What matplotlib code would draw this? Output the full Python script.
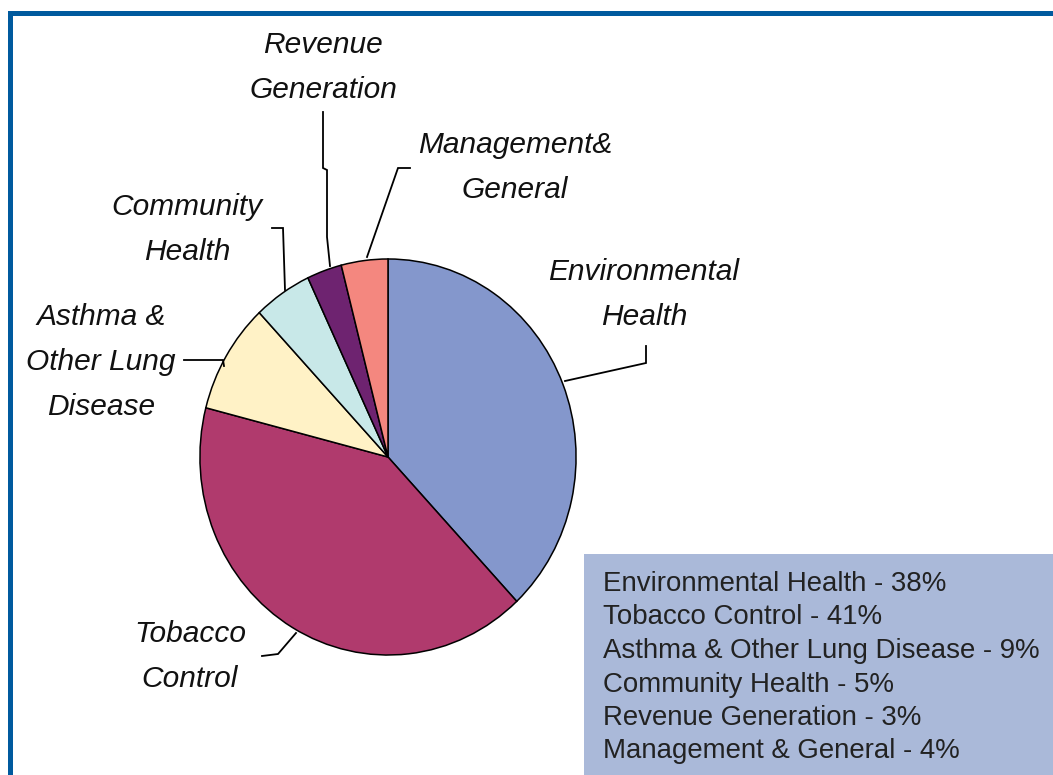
import matplotlib
matplotlib.use("Agg")
import matplotlib.pyplot as plt
from matplotlib.patches import Rectangle

# ---- data ----
categories = ["Environmental Health", "Tobacco Control", "Asthma & Other Lung Disease",
              "Community Health", "Revenue Generation", "Management & General"]
shares = [38, 41, 9, 5, 3, 4]
pie_labels = ["Environmental\nHealth", "Tobacco\nControl", "Asthma &\nOther Lung\nDisease",
              "Community\nHealth", "Revenue\nGeneration", "Management&\nGeneral"]
colors = ["#8497CC", "#B03A6D", "#FFF2C6", "#C8E8E8", "#6E2370", "#F4877F"]

# ---- layout (pixels) ----
W, H = 1053, 775
label_pos = [(644, 280), (190, 642), (101, 325), (187, 215), (323, 53), (515, 153)]
leaders = [
    [(565, 381), (646, 363), (646, 346)],
    [(296, 633), (278, 654), (262, 656)],
    [(184, 360), (223, 360), (224, 366)],
    [(272, 228), (283, 228), (285, 290)],
    [(323, 112), (323, 168), (327, 170), (327, 237), (330, 266)],
    [(367, 257), (398, 168), (410, 168)],
]

fig = plt.figure(figsize=(W / 100, H / 100), dpi=100)
fig.patch.set_facecolor("white")

# pie axes (slightly elliptical as in the reference)
px0, py0, px1, py1 = 199, 258, 577, 656
pax = fig.add_axes([px0 / W, (H - py1) / H, (px1 - px0) / W, (py1 - py0) / H])
pax.pie(shares, colors=colors, startangle=90, counterclock=False, radius=1,
        wedgeprops=dict(edgecolor="black", linewidth=1.1))
pax.set_aspect("auto")
pax.set_xlim(-1.005, 1.005)
pax.set_ylim(-1.005, 1.005)
pax.axis("off")

# overlay axes in pixel coordinates
ax = fig.add_axes([0, 0, 1, 1], facecolor="none")
ax.set_xlim(0, W)
ax.set_ylim(H, 0)
ax.axis("off")

# frame
ax.add_patch(Rectangle((8, 11), W - 8, 5, color="#005A9E", lw=0))
ax.add_patch(Rectangle((8, 11), 5, H - 11, color="#005A9E", lw=0))

# labels
for lab, (x, y) in zip(pie_labels, label_pos):
    for i, line in enumerate(lab.split("\n")):
        ax.text(x, y + i * 45, line, ha="center", va="baseline",
                fontsize=21.5, fontstyle="italic", family="Liberation Sans",
                color="#111111")

for pts in leaders:
    xs, ys = zip(*pts)
    ax.plot(xs, ys, color="black", lw=1.3, solid_joinstyle="miter")

# legend box
ax.add_patch(Rectangle((584, 554), W - 584, H - 554, color="#AAB9D9", lw=0))
for i, (c, s) in enumerate(zip(categories, shares)):
    ax.text(603, 591 + i * 33.5, f"{c} - {s}%", ha="left", va="baseline",
            fontsize=19.9, family="Liberation Sans", color="#222222")

fig.savefig("out.png", dpi=100)
